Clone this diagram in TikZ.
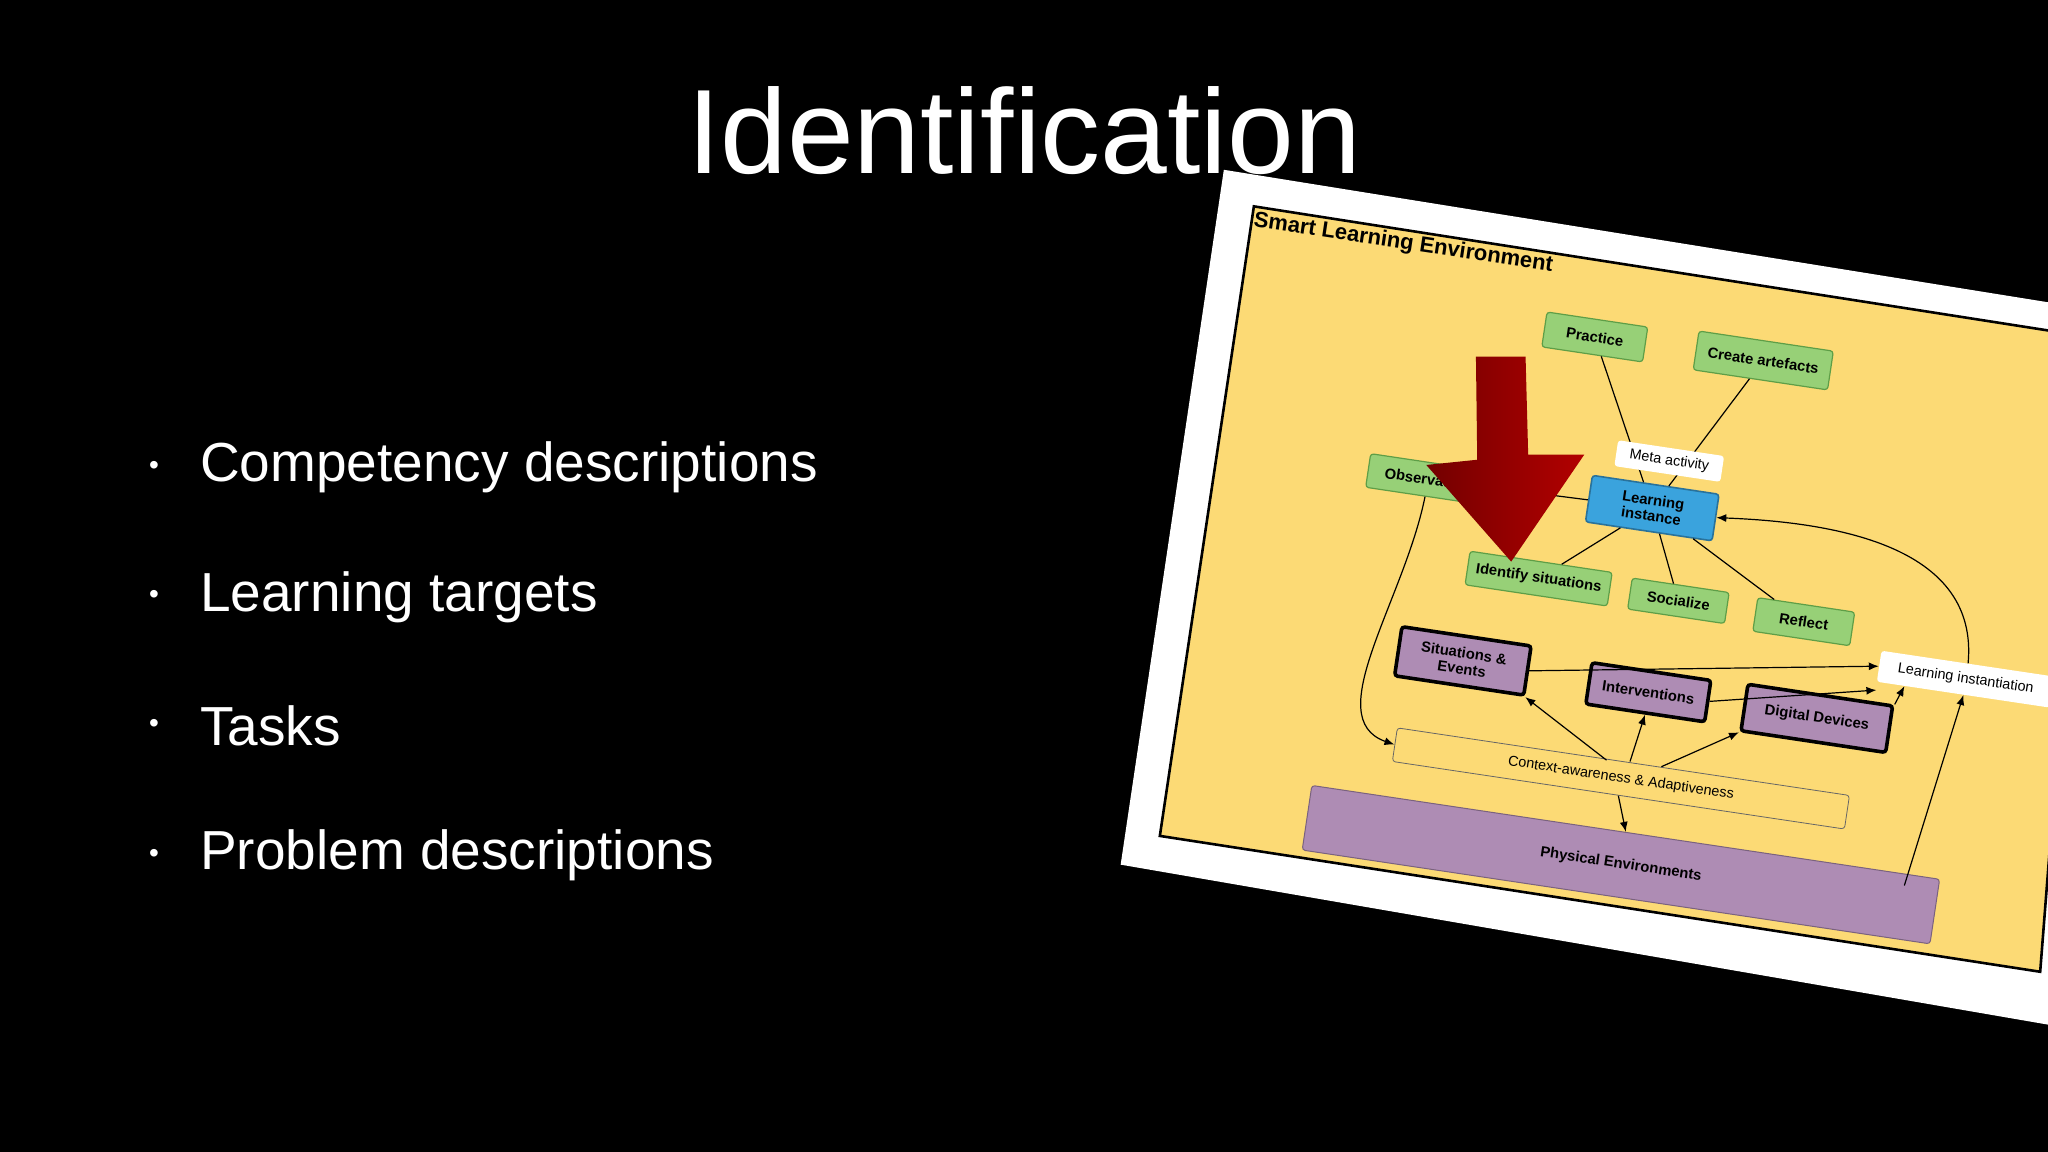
\documentclass[tikz,border=0pt]{standalone}
\usepackage{fontspec}
\setmainfont{Liberation Sans}
\usetikzlibrary{arrows.meta}
\definecolor{paperY}{HTML}{FCDA75}
\definecolor{gbox}{HTML}{97D077}
\definecolor{gline}{HTML}{5E9E47}
\definecolor{bbox}{HTML}{3AA3DD}
\definecolor{pbox}{HTML}{AE8CB4}
\newdimen\pu \pu=0.653pt
\tikzset{
  d/.style={rotate=-8.5, font=\fontsize{7.4}{8}\selectfont\bfseries, align=center, inner sep=0pt, rounded corners=1.5pt},
  gn/.style={d, fill=gbox, draw=gline, line width=0.6pt},
  wn/.style={d, fill=white, font=\fontsize{7.2}{8}\selectfont},
  pn/.style={d, fill=pbox, draw=black, line width=1.8pt},
  ln/.style={line width=0.6pt},
  ar/.style={line width=0.6pt, -{Latex[length=5pt,width=4pt]}},
}
\begin{document}
\begin{tikzpicture}[x=0.653pt,y=-0.653pt]
\fill[black] (0,0) rectangle (1568,882);
\useasboundingbox (0,0) rectangle (1568,882);
\node[white, font=\fontsize{60}{66}\selectfont, inner sep=0] (title) at (784,100) {Identification};
\foreach \t/\yy [count=\i] in {Competency descriptions/358, Learning targets/457, Tasks/556, Problem descriptions/655}{
  \node[white, font=\fontsize{14}{16}\selectfont, inner sep=0] (b\i) at (118,\yy) {•};
  \node[white, anchor=west, font=\fontsize{27.5}{30}\selectfont, inner sep=0] (t\i) at (153,\yy) {\t};
}
\begin{scope}
\clip (0,0) rectangle (1568,882);
\fill[white] (937,130) -- (1640,243) -- (1600,790) -- (858,662) -- cycle;
\draw[fill=paperY, line width=1.3pt] (960,158) -- (1600,258) -- (1562,744) -- (888,640) -- cycle;
\node[rotate=-8.5, anchor=north west, font=\fontsize{11}{12}\selectfont\bfseries, inner sep=0] (slt) at (961,161) {Smart Learning Environment};

\node[gn, minimum width=78\pu, minimum height=27\pu] (prac) at (1221,258) {Practice};
\node[gn, minimum width=104\pu, minimum height=30\pu] (crea) at (1350,276) {Create artefacts};
\node[gn, minimum width=92\pu, minimum height=26\pu] (obs) at (1093,367) {Observation};
\node[d, fill=bbox, draw=bbox!70!black, line width=0.8pt, minimum width=98\pu, minimum height=36\pu] (li) at (1265,389) {Learning\\instance};
\node[gn, minimum width=110\pu, minimum height=26\pu] (ids) at (1178,443) {Identify situations};
\node[gn, minimum width=75\pu, minimum height=24\pu] (soc) at (1285,460) {Socialize};
\node[gn, minimum width=75\pu, minimum height=26\pu] (ref) at (1381,476) {Reflect};
\node[pn, minimum width=100\pu, minimum height=38\pu] (sit) at (1120,506) {Situations \&\\Events};
\node[pn, minimum width=92\pu, minimum height=32\pu] (int) at (1262,530) {Interventions};
\node[pn, minimum width=112\pu, minimum height=36\pu] (dig) at (1391,550) {Digital Devices};
\node[d, fill=paperY, draw=black!60, line width=0.4pt, font=\fontsize{7.2}{8}\selectfont, minimum width=350\pu, minimum height=26\pu] (ctx) at (1241,596) {Context-awareness \& Adaptiveness};
\node[d, fill=pbox, draw=pbox!70!black, line width=0.5pt, minimum width=486\pu, minimum height=50\pu] (phy) at (1241,662) {Physical Environments};

\draw[ln] (prac) -- (li);
\draw[ln] (crea) -- (li);
\draw[ln] (obs) -- (li);
\draw[ln] (li) -- (ids);
\draw[ln] (li) -- (soc);
\draw[ln] (li) -- (ref);
\node[wn, minimum width=82\pu, minimum height=20\pu] (meta) at (1278,353) {Meta activity};
\node[wn, minimum width=134\pu, minimum height=24\pu] (lis) at (1505,520) {Learning instantiation};

\draw[ar] (obs.south) .. controls (1075,460) and (1010,550) .. (ctx.west);
\draw[ar] (lis.north) .. controls (1515,420) and (1410,400) .. (li.east);
\coordinate (pe) at (1458,678);
\draw[ar] (pe) -- (lis.south);
\coordinate (c1) at (1230,582);
\coordinate (c2) at (1248,583);
\coordinate (c3) at (1272,587);
\draw[ar] (c1) -- (sit.south east);
\draw[ar] (c2) -- (int.south);
\draw[ar] (c3) -- (dig.south west);
\draw[ar] (ctx.south) -- (phy.north);
\draw[ar] (sit.east) -- (lis.west);
\draw[ar] (int.east) -- ([yshift=-4]lis.south west);
\draw[ar] (dig.north east) -- ([xshift=14,yshift=-2]lis.south west);

\shade[left color=red!45!black, right color=red!70!black] (1130,273) -- (1168,273) -- (1170,348) -- (1213,348) -- (1157,430) -- (1092,356) -- (1131,352) -- cycle;
\end{scope}
\end{tikzpicture}
\end{document}
